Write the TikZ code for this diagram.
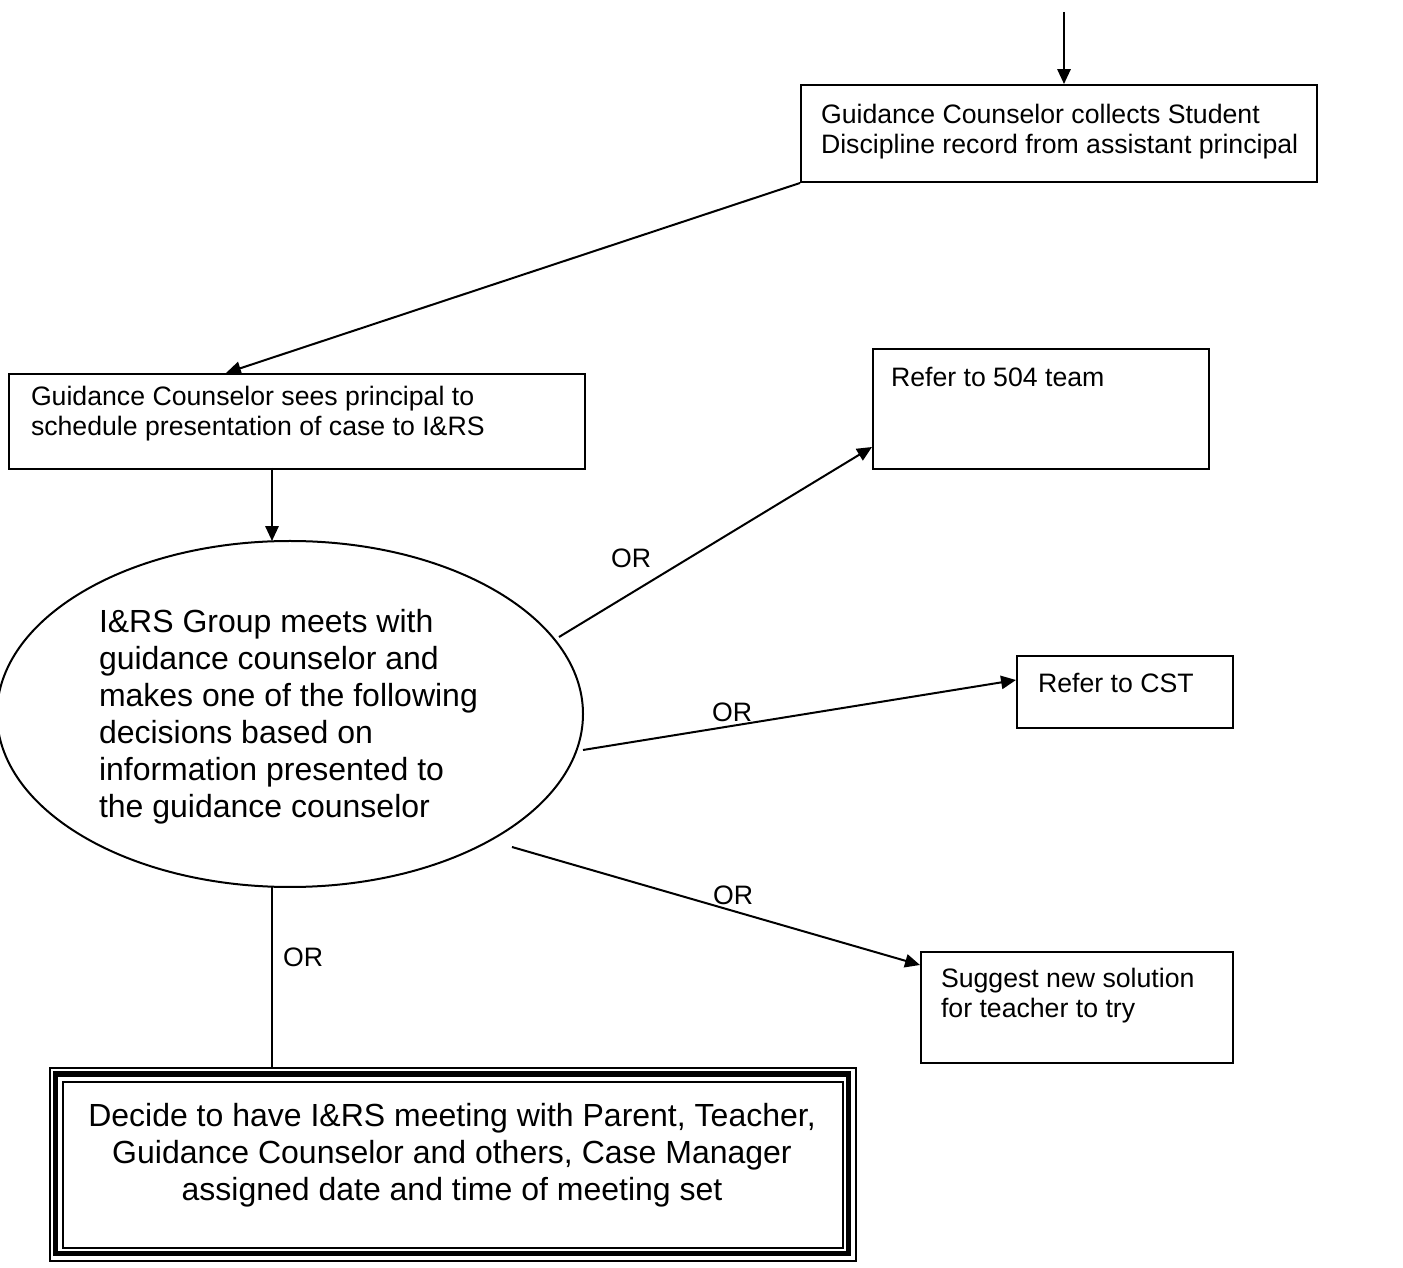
\documentclass[tikz,border=0pt]{standalone}
\usepackage{fontspec}
\setmainfont{Liberation Sans}
\usetikzlibrary{arrows.meta,shapes.geometric}
\begin{document}
\begin{tikzpicture}[x=0.375pt,y=-0.375pt,
  line width=0.75pt,
  box/.style={draw, line width=0.75pt, inner sep=0pt, anchor=north west},
  small/.style={font=\fontsize{10}{11.5}\selectfont, inner sep=0pt, align=left, anchor=north west},
  big/.style={font=\fontsize{12}{13.9}\selectfont, inner sep=0pt},
  orlab/.style={font=\fontsize{10}{12}\selectfont, inner sep=0pt},
  arr/.style={-{Triangle[length=5.6pt,width=5pt]}}]
\useasboundingbox (0,0) rectangle (1403,1268);
\clip (0,0) rectangle (1403,1268);

% boxes
\node[box, minimum width=193.5pt, minimum height=36.375pt] (b1) at (800,84) {};
\node[box, minimum width=216pt, minimum height=35.625pt] (b2) at (8,373) {};
\node[box, minimum width=126pt, minimum height=45pt] (b504) at (872,348) {};
\node[box, minimum width=81pt, minimum height=27pt] (bcst) at (1016,655) {};
\node[box, minimum width=117pt, minimum height=41.625pt] (bsug) at (920,951) {};
\node[draw, ellipse, inner sep=0pt, minimum width=219.75pt, minimum height=129.75pt] (ell) at (290,714) {};

% triple border box
\node[draw, line width=0.75pt, inner sep=0pt, anchor=north west, minimum width=302.25pt, minimum height=72.375pt] (bout) at (49,1067) {};
\draw[line width=1.9pt] (55.5,1074) rectangle (848.5,1253.5);
\node[draw, line width=0.75pt, inner sep=0pt, anchor=north west, minimum width=292.5pt, minimum height=62.25pt] (bin) at (62,1081) {};

% texts
\node[small] (t1) at (820,103) {Guidance Counselor collects Student\\Discipline record from assistant principal};
\node[small] (t2) at (30,385) {Guidance Counselor sees principal to\\schedule presentation of case to I\&RS};
\node[small] (t504) at (890,366) {Refer to 504 team};
\node[small] (tcst) at (1037,672) {Refer to CST};
\node[small] (tsug) at (940,967) {Suggest new solution\\for teacher to try};
\node[big, align=left, anchor=north west] (tell) at (98,608) {I\&RS Group meets with\\guidance counselor and\\makes one of the following\\decisions based on\\information presented to\\the guidance counselor};
\node[big, align=center, anchor=north] (tbox) at (452,1102) {Decide to have I\&RS meeting with Parent, Teacher,\\Guidance Counselor and others, Case Manager\\assigned date and time of meeting set};

% OR labels
\node[orlab] (or1) at (631,558) {OR};
\node[orlab] (or2) at (732,712) {OR};
\node[orlab] (or3) at (733,895) {OR};
\node[orlab] (or4) at (303,957) {OR};

% connector end points
\coordinate (top) at (1064,12);
\coordinate (b2in) at (226,373);
\coordinate (b2out) at (272,468);
\coordinate (ellin) at (272,541);
\coordinate (s504) at (559,637);
\coordinate (e504) at (872,447);
\coordinate (scst) at (583,750);
\coordinate (ecst) at (1016,680);
\coordinate (ssug) at (512,847);
\coordinate (esug) at (920,965);
\coordinate (sbot) at (272,887);
\coordinate (ebot) at (272,1067);

% connectors
\draw[arr] (top) -- (top |- b1.north);
\draw[arr] (b1.south west) -- (b2in);
\draw[arr] (b2out) -- (ellin);
\draw[arr] (s504) -- (e504);
\draw[arr] (scst) -- (ecst);
\draw[arr] (ssug) -- (esug);
\draw (sbot) -- (ebot);
\end{tikzpicture}
\end{document}
